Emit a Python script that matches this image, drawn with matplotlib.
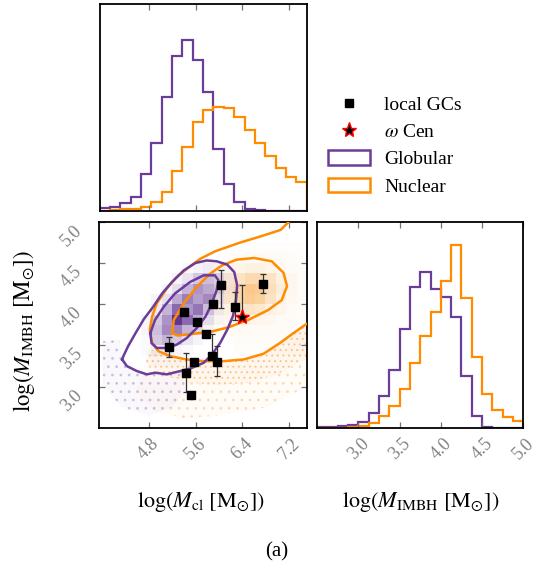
import numpy as np
import matplotlib
matplotlib.use('Agg')
import matplotlib.pyplot as plt
from matplotlib.colors import LinearSegmentedColormap, to_rgb
from matplotlib.lines import Line2D
from matplotlib.patches import Patch

plt.rcParams['font.family'] = ['Liberation Serif', 'DejaVu Serif']
plt.rcParams['mathtext.fontset'] = 'stix'
plt.rcParams['hatch.linewidth'] = 0.7

PURPLE = '#6a3d9a'
ORANGE = '#ff8c00'

# ---------------- data ----------------
mcl_lim = (3.96, 7.50)
mbh_lim = (2.5, 5.0)
nbins = 20

mcl_ticks = [4.8, 5.6, 6.4, 7.2]
mcl_ticklabels = ['4.8', '5.6', '6.4', '7.2']
mbh_ticks = [3.0, 3.5, 4.0, 4.5, 5.0]
mbh_ticklabels = ['3.0', '3.5', '4.0', '4.5', '5.0']

# marginal histograms (relative counts)
mcl_hist_glob = [7, 12, 22, 42, 110, 202, 340, 465, 512, 452, 357, 185, 80, 25, 4, 2, 0, 0, 0, 0]
mcl_hist_nuc = [0, 2, 4, 4, 10, 27, 57, 119, 190, 267, 302, 312, 307, 282, 242, 204, 165, 127, 102, 85]
mbh_hist_glob = [2, 4, 7, 9, 19, 46, 97, 174, 296, 422, 469, 416, 392, 334, 157, 36, 4, 0, 0, 0]
mbh_hist_nuc = [0, 0, 1, 2, 6, 16, 37, 67, 117, 194, 276, 349, 442, 549, 389, 214, 102, 54, 34, 22]

# local globular clusters
gc_logmcl = [5.14, 5.40, 5.63, 5.78, 6.04, 5.90, 6.27, 6.75, 5.88, 5.96, 5.57, 5.44, 5.52]
gc_logmbh = [3.48, 3.90, 3.78, 3.64, 4.23, 4.00, 3.97, 4.25, 3.37, 3.30, 3.30, 3.17, 2.90]
gc_err_lo = [0.12, 0.0, 0.0, 0.0, 0.28, 0.0, 0.16, 0.11, 0.0, 0.17, 0.0, 0.23, 0.0]
gc_err_hi = [0.12, 0.0, 0.0, 0.0, 0.18, 0.0, 0.18, 0.12, 0.27, 0.19, 0.0, 0.24, 0.0]

# omega Cen
ocen_logmcl = [6.39]
ocen_logmbh = [3.85]
ocen_err_hi = [0.38]

# contour lines
glob_outer_x = [4.35, 4.43, 4.60, 4.77, 4.91, 5.11, 5.34, 5.51, 5.74, 5.88, 6.02, 6.14, 6.24, 6.29, 6.31, 6.26, 6.14, 5.96, 5.79, 5.60, 5.40, 5.20, 5.03, 4.88, 4.72, 4.57, 4.45, 4.37, 4.35]
glob_outer_y = [3.33, 3.25, 3.19, 3.15, 3.17, 3.15, 3.19, 3.22, 3.29, 3.39, 3.53, 3.69, 3.86, 4.05, 4.23, 4.39, 4.48, 4.52, 4.53, 4.50, 4.41, 4.27, 4.13, 3.97, 3.82, 3.64, 3.49, 3.37, 3.33]
glob_inner_x = [4.83, 4.91, 5.06, 5.25, 5.51, 5.74, 5.93, 5.99, 5.96, 5.88, 5.77, 5.62, 5.45, 5.28, 5.11, 4.94, 4.85, 4.83]
glob_inner_y = [3.65, 3.81, 3.97, 4.13, 4.27, 4.35, 4.35, 4.29, 4.17, 4.01, 3.85, 3.71, 3.59, 3.51, 3.47, 3.47, 3.53, 3.65]
nuc_inner_x = [5.20, 5.23, 5.40, 5.62, 5.85, 6.05, 6.30, 6.60, 6.90, 7.10, 7.16, 7.07, 6.84, 6.50, 6.16, 5.88, 5.55, 5.30, 5.20]
nuc_inner_y = [3.65, 3.81, 4.01, 4.21, 4.37, 4.47, 4.54, 4.56, 4.52, 4.38, 4.22, 4.05, 3.93, 3.81, 3.72, 3.67, 3.64, 3.62, 3.65]
nuc_outer_x = [7.22, 7.05, 6.70, 6.33, 5.93, 5.68, 5.51, 5.28, 5.11, 4.94, 4.86, 4.82, 4.86, 4.97, 5.17, 5.45, 5.74, 6.08, 6.42, 6.76, 7.04, 7.27, 7.47, 7.52]
nuc_outer_y = [5.02, 4.90, 4.82, 4.74, 4.64, 4.55, 4.46, 4.33, 4.19, 4.01, 3.85, 3.69, 3.53, 3.43, 3.37, 3.33, 3.31, 3.31, 3.33, 3.40, 3.53, 3.65, 3.75, 3.77]

# 2D histogram shading blocks (rows from top)
glob_dens_i0, glob_dens_jtop = 3, 15
glob_dens = [
    [0, 0, 0, 0, 0, .03, .06, .08, .05, .02],
    [0, 0, 0, 0, .05, .12, .25, .30, .20, .05],
    [0, 0, 0, .05, .15, .35, .50, .40, .25, .05],
    [0, 0, .05, .15, .40, .60, .45, .55, .15, .03],
    [0, 0, .10, .35, .70, .50, .65, .30, .08, 0],
    [0, .05, .25, .50, .95, .70, .40, .15, .03, 0],
    [0, .05, .30, .55, .60, .35, .20, .05, 0, 0],
    [0, .03, .25, .35, .25, .12, .05, 0, 0, 0],
    [0, .02, .08, .10, .05, .03, 0, 0, 0, 0],
    [0, 0, .02, .02, .02, 0, 0, 0, 0, 0],
]
nuc_dens_i0, nuc_dens_jtop = 10, 17
nuc_dens = [
    [0, 0, 0, 0, .02, .02, .02, .02, .02, .02],
    [0, 0, .02, .04, .05, .06, .05, .04, .03, .02],
    [.02, .04, .08, .12, .15, .15, .12, .08, .05, .03],
    [.03, .08, .20, .30, .40, .40, .30, .15, .08, .04],
    [.04, .10, .25, .45, .60, .55, .35, .18, .08, .04],
    [.04, .10, .25, .45, .55, .50, .30, .15, .07, .04],
    [.03, .08, .15, .25, .30, .25, .15, .10, .05, .03],
    [.02, .05, .08, .12, .12, .10, .08, .05, .04, .03],
    [.02, .03, .04, .05, .05, .05, .04, .04, .03, .03],
    [0, .02, .02, .03, .03, .03, .03, .03, .03, .03],
    [0, 0, 0, .02, .02, .02, .02, .02, .02, .02],
]

# outlying sample regions (drawn as dotted texture)
nuc_dots_dense_x = [4.80, 4.95, 5.17, 5.45, 5.74, 6.08, 6.42, 6.76, 7.04, 7.27, 7.50, 7.50, 7.0, 6.5, 6.0, 5.5, 5.0, 4.75]
nuc_dots_dense_y = [3.45, 3.43, 3.37, 3.33, 3.31, 3.31, 3.33, 3.40, 3.53, 3.65, 3.76, 3.35, 3.15, 3.05, 3.02, 3.05, 3.15, 3.30]
nuc_dots_sparse_x = [4.75, 5.0, 5.5, 6.0, 6.5, 7.0, 7.5, 7.5, 6.8, 6.0, 5.4, 4.9, 4.6]
nuc_dots_sparse_y = [3.30, 3.15, 3.05, 3.02, 3.05, 3.15, 3.35, 3.0, 2.75, 2.65, 2.62, 2.70, 2.95]
glob_dots_x = [4.02, 4.30, 4.35, 4.43, 4.60, 4.77, 4.91, 5.11, 5.34, 5.45, 5.20, 4.80, 4.35, 4.02]
glob_dots_y = [3.55, 3.58, 3.33, 3.25, 3.19, 3.15, 3.17, 3.15, 3.19, 2.95, 2.75, 2.65, 2.75, 3.00]

# ---------------- figure ----------------
fig = plt.figure(figsize=(5.48, 5.68), dpi=100)
ax_top = fig.add_axes([0.1816, 0.629, 0.3781, 0.3639])
ax_main = fig.add_axes([0.1812, 0.2465, 0.379, 0.3632])
ax_right = fig.add_axes([0.579, 0.2465, 0.3759, 0.3627])

xedges = np.linspace(mcl_lim[0], mcl_lim[1], nbins + 1)
yedges = np.linspace(mbh_lim[0], mbh_lim[1], nbins + 1)

# top marginal
ax_top.stairs(mcl_hist_glob, xedges, color=PURPLE, lw=1.6)
ax_top.stairs(mcl_hist_nuc, xedges, color=ORANGE, lw=1.6)
ax_top.set_xlim(mcl_lim)
ax_top.set_ylim(0, 620)
ax_top.set_xticks(mcl_ticks)
ax_top.set_yticks([])
ax_top.tick_params(labelbottom=False)

# right marginal
ax_right.stairs(mbh_hist_glob, yedges, color=PURPLE, lw=1.6)
ax_right.stairs(mbh_hist_nuc, yedges, color=ORANGE, lw=1.6)
ax_right.set_xlim(mbh_lim)
ax_right.set_ylim(0, 618)
ax_right.set_xticks(mbh_ticks)
ax_right.set_xticklabels(mbh_ticklabels)
ax_right.set_yticks([])

# main panel
def block_grid(rows, i0, jtop):
    g = np.zeros((nbins, nbins))
    for r, row in enumerate(rows):
        for c, v in enumerate(row):
            g[jtop - r, i0 + c] = v
    return np.ma.masked_equal(g, 0)

def alpha_cmap(color, name):
    r, g, b = to_rgb(color)
    return LinearSegmentedColormap.from_list(name, [(r, g, b, 0.0), (r, g, b, 1.0)])

# faint wash + fine dots for the outlying samples
ax_main.fill(nuc_dots_dense_x, nuc_dots_dense_y, facecolor=ORANGE, alpha=0.07, lw=0, zorder=1)
ax_main.fill(nuc_dots_sparse_x, nuc_dots_sparse_y, facecolor=ORANGE, alpha=0.03, lw=0, zorder=1)
ax_main.fill(glob_dots_x, glob_dots_y, facecolor=PURPLE, alpha=0.03, lw=0, zorder=1)
ax_main.fill(nuc_dots_dense_x, nuc_dots_dense_y, facecolor='none', edgecolor='#fcc48e', lw=0, hatch='...', zorder=1)
ax_main.fill(nuc_dots_sparse_x, nuc_dots_sparse_y, facecolor='none', edgecolor='#fdd9b5', lw=0, hatch='..', zorder=1)
ax_main.fill(glob_dots_x, glob_dots_y, facecolor='none', edgecolor='#cbbde0', lw=0, hatch='..', zorder=1)

ax_main.pcolormesh(xedges, yedges, block_grid(nuc_dens, nuc_dens_i0, nuc_dens_jtop),
                   cmap=alpha_cmap('#f79a2a', 'nuc'), vmin=0, vmax=1.1, zorder=2)
ax_main.pcolormesh(xedges, yedges, block_grid(glob_dens, glob_dens_i0, glob_dens_jtop),
                   cmap=alpha_cmap('#5a2a8e', 'glob'), vmin=0, vmax=1.0, zorder=3)

ax_main.plot(nuc_outer_x, nuc_outer_y, color=ORANGE, lw=1.8, zorder=4)
ax_main.plot(nuc_inner_x, nuc_inner_y, color=ORANGE, lw=1.8, zorder=4)
ax_main.plot(glob_outer_x, glob_outer_y, color=PURPLE, lw=1.8, zorder=5)
ax_main.plot(glob_inner_x, glob_inner_y, color=PURPLE, lw=1.8, zorder=5)

ax_main.errorbar(gc_logmcl, gc_logmbh, yerr=[gc_err_lo, gc_err_hi], fmt='none',
                 ecolor='#333333', elinewidth=0.9, capsize=2.5, capthick=0.9, zorder=6)
ax_main.plot(gc_logmcl, gc_logmbh, 's', color='k', ms=6.2, zorder=7)
ax_main.errorbar(ocen_logmcl, ocen_logmbh, yerr=[[0.0], ocen_err_hi], fmt='none',
                 ecolor='#333333', elinewidth=0.9, capsize=2.5, capthick=0.9, zorder=6)
ax_main.plot(ocen_logmcl, ocen_logmbh, '*', mfc='k', mec='red', mew=1.0, ms=11, zorder=8)

ax_main.set_xlim(mcl_lim)
ax_main.set_ylim(mbh_lim)
ax_main.set_xticks(mcl_ticks)
ax_main.set_xticklabels(mcl_ticklabels)
ax_main.set_yticks(mbh_ticks)
ax_main.set_yticklabels(mbh_ticklabels)

for ax in (ax_top, ax_main, ax_right):
    ax.tick_params(direction='in', top=True, bottom=True, left=True, right=True,
                   length=4.5, width=0.9, color='0.45', labelcolor='0.5', labelsize=13)
    for s in ax.spines.values():
        s.set_linewidth(1.3)
ax_main.tick_params(axis='x', pad=5)
ax_right.tick_params(axis='x', pad=5)
ax_main.tick_params(axis='y', pad=10)

for lab in ax_main.get_xticklabels() + ax_right.get_xticklabels():
    lab.set_rotation(45)
    lab.set_ha('center')
for lab in ax_main.get_yticklabels():
    lab.set_rotation(45)
    lab.set_va('top')

ax_main.set_xlabel(r'$\log(M_{\rm cl}\ [{\rm M}_{\odot}])$', fontsize=16)
ax_main.xaxis.set_label_coords(0.49, -0.30)
ax_right.set_xlabel(r'$\log(M_{\rm IMBH}\ [{\rm M}_{\odot}])$', fontsize=16)
ax_right.xaxis.set_label_coords(0.50, -0.30)
ax_main.set_ylabel(r'$\log(M_{\rm IMBH}\ [{\rm M}_{\odot}])$', fontsize=16.5)
ax_main.yaxis.set_label_coords(-0.30, 0.47)

handles = [
    Line2D([], [], marker='s', color='k', ls='none', ms=6.2),
    Line2D([], [], marker='*', mfc='k', mec='red', mew=1.0, ls='none', ms=11),
    Patch(facecolor='white', edgecolor=PURPLE, lw=1.8),
    Patch(facecolor='white', edgecolor=ORANGE, lw=1.8),
]
labels = ['local GCs', r'$\omega$ Cen', 'Globular', 'Nuclear']
fig.legend(handles, labels, loc='upper left', bbox_to_anchor=(0.598, 0.831),
           frameon=False, fontsize=14, handlelength=2.15, handleheight=0.75,
           handletextpad=0.75, labelspacing=0.48, borderpad=0, borderaxespad=0)

fig.text(277 / 548, 1 - 552 / 568, '(a)', ha='center', va='center', fontsize=15)

fig.savefig('out.png', dpi=100)
